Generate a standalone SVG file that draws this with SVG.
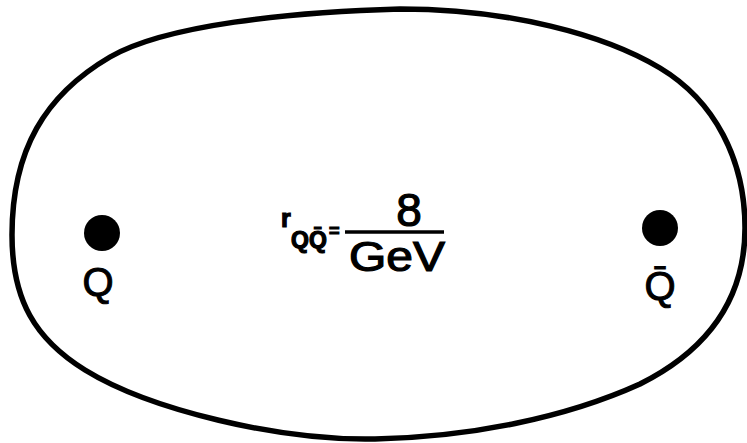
<svg xmlns="http://www.w3.org/2000/svg" width="747" height="443" viewBox="0 0 747 443">
<style>
.t{font-family:"Liberation Sans",Arial,sans-serif;fill:#000;stroke:#000;stroke-width:1.2}
.q{font-size:40px;stroke-width:1}
</style>
<rect width="747" height="443" fill="#fff"/>
<g id="boundary">
<path d="M12,235 C12,150 45,95 110,57 C165,25 290,12 400,9 C510,9 605,35 660,68 C715,101 745,160 745,228 C745,295 712,348 640,384 C565,418 470,437 375,439 C280,441 150,410 85,370 C35,339 12,300 12,235 Z" fill="none" stroke="#000" stroke-width="5.5"/>
</g>
<g id="quark">
<circle cx="102" cy="233" r="18" fill="#000"/>
<text class="t q" x="98" y="296" text-anchor="middle">Q</text>
</g>
<g id="antiquark">
<circle cx="660" cy="228" r="18" fill="#000"/>
<text class="t q" x="660" y="300" text-anchor="middle">Q̄</text>
</g>
<g id="formula">
<text class="t" x="281" y="227" font-size="25" font-weight="bold" stroke-width="0.5">r</text>
<text class="t" x="291" y="248" font-size="23" font-weight="bold" stroke-width="0.6">QQ̄</text>
<text class="t" x="329" y="237" font-size="18" font-weight="bold" stroke-width="0">=</text>
<line x1="345" y1="232" x2="444" y2="232" stroke="#000" stroke-width="3.5"/>
<text class="t" x="409" y="226" font-size="46" text-anchor="middle">8</text>
<text class="t" x="397" y="271" font-size="42" text-anchor="middle" textLength="96" lengthAdjust="spacingAndGlyphs">GeV</text>
</g>
</svg>
